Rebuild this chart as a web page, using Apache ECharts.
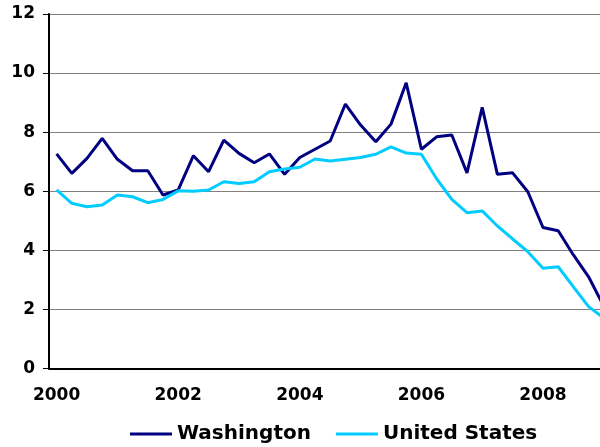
<!DOCTYPE html>
<html>
<head>
<meta charset="utf-8">
<script src="https://cdn.jsdelivr.net/npm/echarts@6/dist/echarts.min.js"></script>
<style>
  html, body { margin: 0; padding: 0; background: #fff; }
  #chart { width: 600px; height: 447px; }
</style>
</head>
<body>
<div id="chart"></div>
<script>
// quarterly, 2000 Q1 .. 2009 Q1 (last quarter runs off the right edge)
const quarters = [
  '2000Q1', '2000Q2', '2000Q3', '2000Q4', '2001Q1', '2001Q2', '2001Q3', '2001Q4',
  '2002Q1', '2002Q2', '2002Q3', '2002Q4', '2003Q1', '2003Q2', '2003Q3', '2003Q4',
  '2004Q1', '2004Q2', '2004Q3', '2004Q4', '2005Q1', '2005Q2', '2005Q3', '2005Q4',
  '2006Q1', '2006Q2', '2006Q3', '2006Q4', '2007Q1', '2007Q2', '2007Q3', '2007Q4',
  '2008Q1', '2008Q2', '2008Q3', '2008Q4', '2009Q1'
]
const washington = [
  7.26, 6.60, 7.11, 7.79, 7.08, 6.69, 6.69, 5.87,
  6.04, 7.20, 6.66, 7.73, 7.28, 6.96, 7.26, 6.57,
  7.14, 7.42, 7.70, 8.95, 8.24, 7.67, 8.27, 9.67,
  7.42, 7.84, 7.90, 6.62, 8.84, 6.57, 6.62, 5.98,
  4.77, 4.66, 3.84, 3.10, 2.10
]
const unitedStates = [
  6.04, 5.59, 5.47, 5.53, 5.87, 5.81, 5.61, 5.72,
  6.01, 6.00, 6.04, 6.32, 6.26, 6.32, 6.66, 6.75,
  6.81, 7.09, 7.02, 7.08, 7.14, 7.25, 7.50, 7.29,
  7.25, 6.42, 5.72, 5.27, 5.33, 4.82, 4.38, 3.95,
  3.39, 3.44, 2.76, 2.09, 1.70
]
const seriesNames = ['Washington', 'United States']

const fontFamily = '"DejaVu Sans", Verdana, sans-serif'

let chart = echarts.init(document.getElementById('chart'), null, { renderer: 'canvas' })
chart.setOption({
  animation: false,
  grid: {
    left: 49,
    top: 14,
    width: 562.4, // wider than the window: the last quarter is cut off like in the source
    bottom: 78.7,
    containLabel: false,
    outerBoundsMode: 'none'
  },
  legend: {
    data: seriesNames,
    left: 130,
    top: 424,
    padding: 0,
    icon: 'rect',
    itemWidth: 42,
    itemHeight: 3,
    itemGap: 25,
    textStyle: {
      fontFamily: fontFamily,
      fontWeight: 'bold',
      fontSize: 20,
      color: '#000'
    }
  },
  xAxis: {
    type: 'category',
    boundaryGap: true,
    data: quarters,
    axisLine: { lineStyle: { color: '#000', width: 2 } },
    axisTick: { interval: 7, length: 5, lineStyle: { color: '#555' } },
    axisLabel: {
      interval: 7,
      margin: 19,
      formatter: v => v.slice(0, 4),
      fontFamily: fontFamily,
      fontWeight: 'bold',
      fontSize: 17,
      color: '#000'
    },
    splitLine: { show: false }
  },
  yAxis: {
    type: 'value',
    min: 0,
    max: 12,
    interval: 2,
    axisLine: { show: true, lineStyle: { color: '#000', width: 2 } },
    axisTick: { show: true, length: 6, lineStyle: { color: '#000' } },
    axisLabel: {
      margin: 14,
      fontFamily: fontFamily,
      fontWeight: 'bold',
      fontSize: 17,
      color: '#000'
    },
    splitLine: { lineStyle: { color: '#808080', width: 1 } }
  },
  series: [
    {
      name: seriesNames[0],
      type: 'line',
      data: washington,
      symbol: 'none',
      lineStyle: { color: '#000080', width: 3 },
      itemStyle: { color: '#000080' }
    },
    {
      name: seriesNames[1],
      type: 'line',
      data: unitedStates,
      symbol: 'none',
      lineStyle: { color: '#00ccff', width: 3 },
      itemStyle: { color: '#00ccff' }
    }
  ]
})
</script>
</body>
</html>
